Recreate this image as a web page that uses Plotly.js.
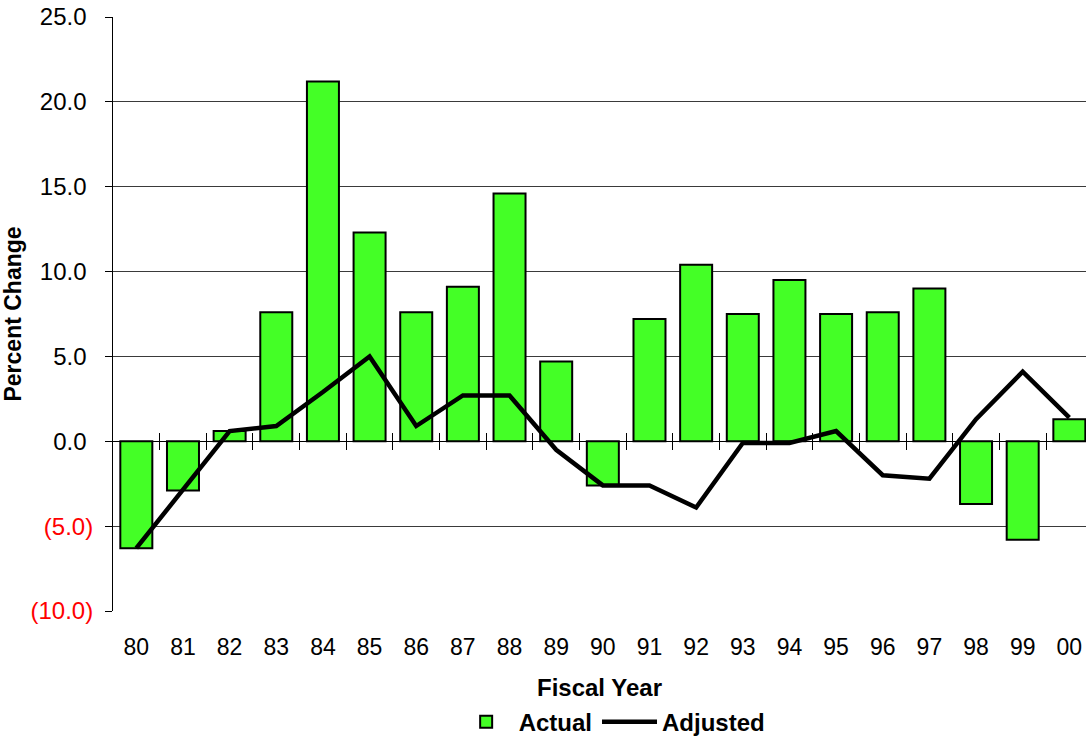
<!DOCTYPE html>
<html>
<head>
<meta charset="utf-8">
<script src="https://cdn.plot.ly/plotly-3.0.1.min.js"></script>
<style>
html, body { margin: 0; padding: 0; background: #fff; overflow: hidden; }
#chart { width: 1086px; height: 738px; }
</style>
</head>
<body>
<div id="chart"></div>
<script>
const years = ['80','81','82','83','84','85','86','87','88','89','90','91','92','93','94','95','96','97','98','99','00'];
const actual = [-6.3, -2.9, 0.6, 7.6, 21.2, 12.3, 7.6, 9.1, 14.6, 4.7, -2.6, 7.2, 10.4, 7.5, 9.5, 7.5, 7.6, 9.0, -3.7, -5.8, 1.3];
const adjusted = [-6.3, -2.8, 0.6, 0.9, 2.9, 5.0, 0.9, 2.7, 2.7, -0.5, -2.6, -2.6, -3.9, -0.1, -0.1, 0.6, -2.0, -2.2, 1.3, 4.1, 1.4];
const yTickVals = [-10, -5, 0, 5, 10, 15, 20, 25];
const yTickText = ['(10.0)', '(5.0)', '0.0', '5.0', '10.0', '15.0', '20.0', '25.0'];
const seriesNames = ['Actual', 'Adjusted'];

const FONT = 'Liberation Sans, Arial, sans-serif';
const yMin = -10, yMax = 25;
const xRange = [-0.5, 20.357];
const boundaries = years.slice(1).map((_, i) => i + 0.5);
const zeroPos = (0 - yMin) / (yMax - yMin);

const traces = [
  {
    type: 'bar', name: seriesNames[0], x: years, y: actual,
    width: 0.686,
    marker: { color: '#44ff26', line: { color: '#000', width: 2 } },
    hoverinfo: 'x+y'
  },
  {
    type: 'scatter', mode: 'lines', name: seriesNames[1], x: years, y: adjusted,
    line: { color: '#000', width: 4.5 }
  },
  { type: 'scatter', x: [], y: [], xaxis: 'x2', showlegend: false, hoverinfo: 'skip' },
  { type: 'scatter', x: [], y: [], xaxis: 'x3', showlegend: false, hoverinfo: 'skip' }
];

const tickAxis = (dir) => ({
  overlaying: 'x', anchor: 'free', position: zeroPos, automargin: false,
  type: 'linear', range: xRange, showgrid: false, zeroline: false, showline: false,
  tickmode: 'array', tickvals: boundaries, showticklabels: false,
  ticks: dir, ticklen: 8, tickwidth: 1, tickcolor: '#000', fixedrange: true
});

const layout = {
  width: 1086, height: 738,
  margin: { l: 113, r: 0, t: 17, b: 127, autoexpand: false },
  paper_bgcolor: '#fff', plot_bgcolor: '#fff',
  font: { family: FONT, size: 23, color: '#000' },
  bargap: 0.3,
  showlegend: true,
  legend: {
    orientation: 'h', x: 0.513, xanchor: 'center', y: -0.187, yanchor: 'middle',
    font: { family: FONT, size: 24, weight: 'bold', color: '#000' },
    itemwidth: 55, tracegroupgap: 0
  },
  xaxis: {
    type: 'category', range: xRange, automargin: false,
    showgrid: false, zeroline: false, showline: false, ticks: '',
    ticklabelstandoff: 20,
    tickfont: { family: FONT, size: 23, color: '#000' },
    title: { text: 'Fiscal Year', font: { family: FONT, size: 24, weight: 'bold', color: '#000' }, standoff: 20 }
  },
  xaxis2: tickAxis('outside'),
  xaxis3: tickAxis('inside'),
  yaxis: {
    range: [yMin, yMax], automargin: false,
    tickmode: 'array', tickvals: yTickVals,
    ticktext: yTickText.map((t, i) => yTickVals[i] < 0 ? '<span style="color:#ff0000">' + t + '</span>' : t + '\u00a0'),
    showgrid: true, gridcolor: '#3a3a3a', gridwidth: 1,
    zeroline: true, zerolinecolor: '#000', zerolinewidth: 1,
    showline: true, linecolor: '#000', linewidth: 1,
    ticks: 'outside', ticklen: 7, tickcolor: '#000', tickwidth: 1,
    ticklabelstandoff: 7,
    tickfont: { family: FONT, size: 24, color: '#000' },
    title: { text: 'Percent Change', font: { family: FONT, size: 23, weight: 'bold', color: '#000' }, standoff: 3 }
  }
};

Plotly.newPlot('chart', traces, layout, { displayModeBar: false, staticPlot: true });
</script>
</body>
</html>
